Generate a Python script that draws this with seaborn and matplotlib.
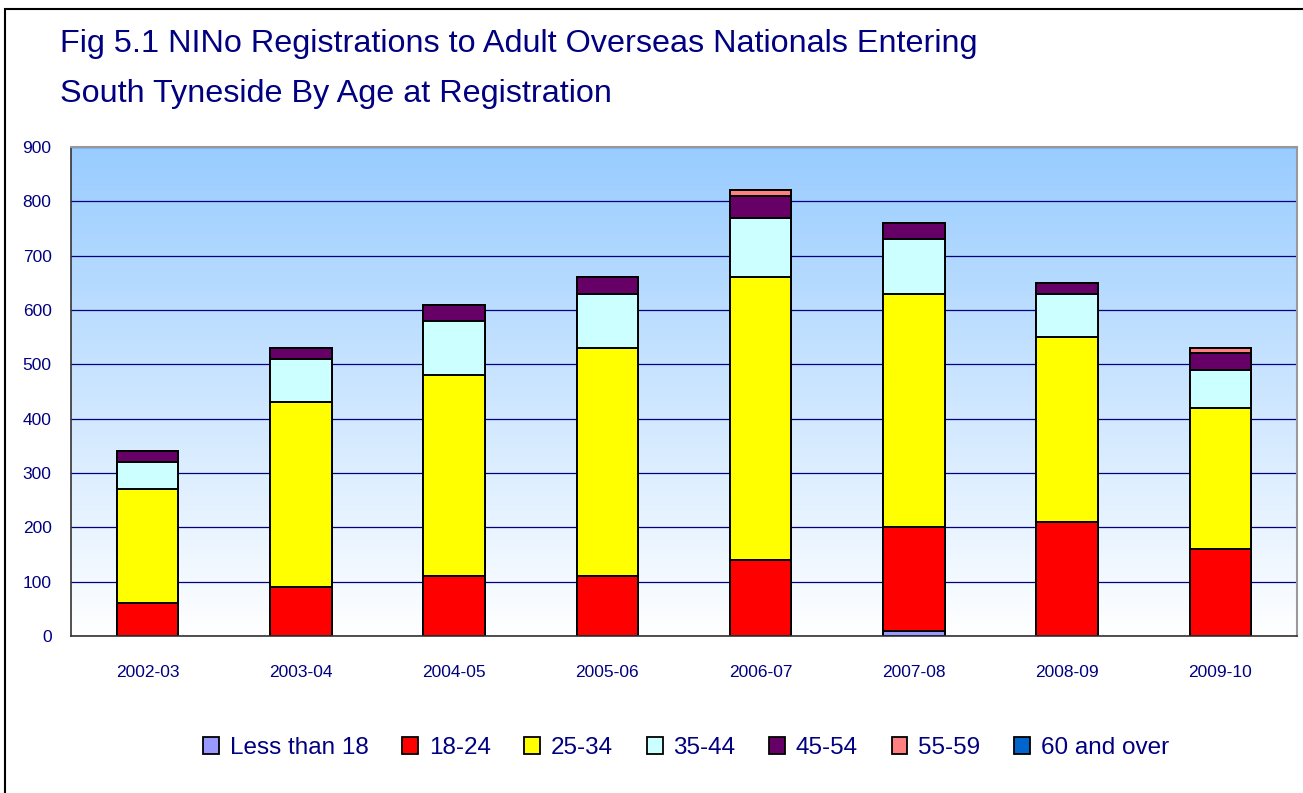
import numpy as np
import matplotlib
matplotlib.use("Agg")
import matplotlib.pyplot as plt
from matplotlib.colors import LinearSegmentedColormap
from matplotlib.patches import Patch, Rectangle
import seaborn as sns

years = ["2002-03", "2003-04", "2004-05", "2005-06",
         "2006-07", "2007-08", "2008-09", "2009-10"]
under_18 = [0, 0, 0, 0, 0, 10, 0, 0]
age_18_24 = [60, 90, 110, 110, 140, 190, 210, 160]
age_25_34 = [210, 340, 370, 420, 520, 430, 340, 260]
age_35_44 = [50, 80, 100, 100, 110, 100, 80, 70]
age_45_54 = [20, 20, 30, 30, 40, 30, 20, 30]
age_55_59 = [0, 0, 0, 0, 10, 0, 0, 10]
age_60_over = [0, 0, 0, 0, 0, 0, 0, 0]

group_names = ["Less than 18", "18-24", "25-34", "35-44",
               "45-54", "55-59", "60 and over"]
group_values = [under_18, age_18_24, age_25_34, age_35_44,
                age_45_54, age_55_59, age_60_over]
group_colors = ["#9999FF", "#FF0000", "#FFFF00", "#CCFFFF",
                "#660066", "#FF8080", "#0066CC"]

title_lines = ["Fig 5.1 NINo Registrations to Adult Overseas Nationals Entering",
               "South Tyneside By Age at Registration"]
navy = "#000080"

sns.set_style("white")
plt.rcParams["font.family"] = ["Liberation Sans", "DejaVu Sans"]

W, H = 1303, 793
fig = plt.figure(figsize=(W / 100, H / 100), dpi=100)
ax = fig.add_axes([71 / W, 1 - 636 / H, (1297 - 71) / W, (636 - 147) / H])

# gradient plot area background (light blue at top fading to white)
cmap = LinearSegmentedColormap.from_list("bg", ["#FFFFFF", "#99CCFF"])
grad = np.linspace(0, 1, 256).reshape(-1, 1)
ax.imshow(grad, extent=[-0.5, 7.5, 0, 900], aspect="auto", origin="lower",
          cmap=cmap, zorder=0)

# stacked bars: draw cumulative totals from the top layer down
cum = np.cumsum(np.array(group_values), axis=0)
for k in range(len(group_names) - 1, -1, -1):
    sns.barplot(x=years, y=cum[k], color=group_colors[k], saturation=1,
                edgecolor="black", linewidth=1.4, width=0.4, ax=ax, zorder=2)

ax.set_xlim(-0.5, 7.5)
ax.set_ylim(0, 900)
ax.set_yticks(range(0, 901, 100))
ax.yaxis.grid(True, color=navy, linewidth=0.9)
ax.xaxis.grid(False)
ax.set_axisbelow(True)

# x ticks sit between the categories, labels centered under bars
ax.set_xticks(np.arange(-0.5, 8, 1))
ax.set_xticklabels([])
ax.set_xticks(np.arange(8), minor=True)
ax.set_xticklabels(years, minor=True)
ax.tick_params(axis="x", which="major", direction="out", length=6,
               color="#333333", width=1)
ax.tick_params(axis="x", which="minor", length=0, pad=21,
               labelsize=12.5, labelcolor=navy)
ax.tick_params(axis="y", direction="out", length=6, color="#333333",
               width=1, labelsize=12.5, labelcolor=navy, pad=8)
ax.set_xlabel("")
ax.set_ylabel("")

for side in ["left", "bottom"]:
    ax.spines[side].set_color("#333333")
    ax.spines[side].set_linewidth(1.2)
for side in ["top", "right"]:
    ax.spines[side].set_color("#999999")
    ax.spines[side].set_linewidth(1.5)

# two-line title, baselines placed separately
fig.text(60 / W, 1 - 52 / H, title_lines[0], ha="left", va="baseline",
         fontsize=23.3, color=navy)
fig.text(60 / W, 1 - 102 / H, title_lines[1], ha="left", va="baseline",
         fontsize=23.3, color=navy)

handles = [Patch(facecolor=c, edgecolor="black", linewidth=1.3)
           for c in group_colors]
fig.legend(handles, group_names, loc="center",
           bbox_to_anchor=(686 / W, 1 - 748 / H), ncol=7,
           frameon=False, fontsize=17.5, labelcolor=navy,
           handlelength=0.65, handleheight=0.65, handletextpad=0.45,
           columnspacing=1.38)

# outer chart border (left and top edges visible)
fig.add_artist(Rectangle((5 / W, -0.1), 1.2, 1.1 - 9 / H,
                         transform=fig.transFigure, fill=False,
                         edgecolor="black", linewidth=1.5, clip_on=False))

fig.savefig("out.png", dpi=100)
